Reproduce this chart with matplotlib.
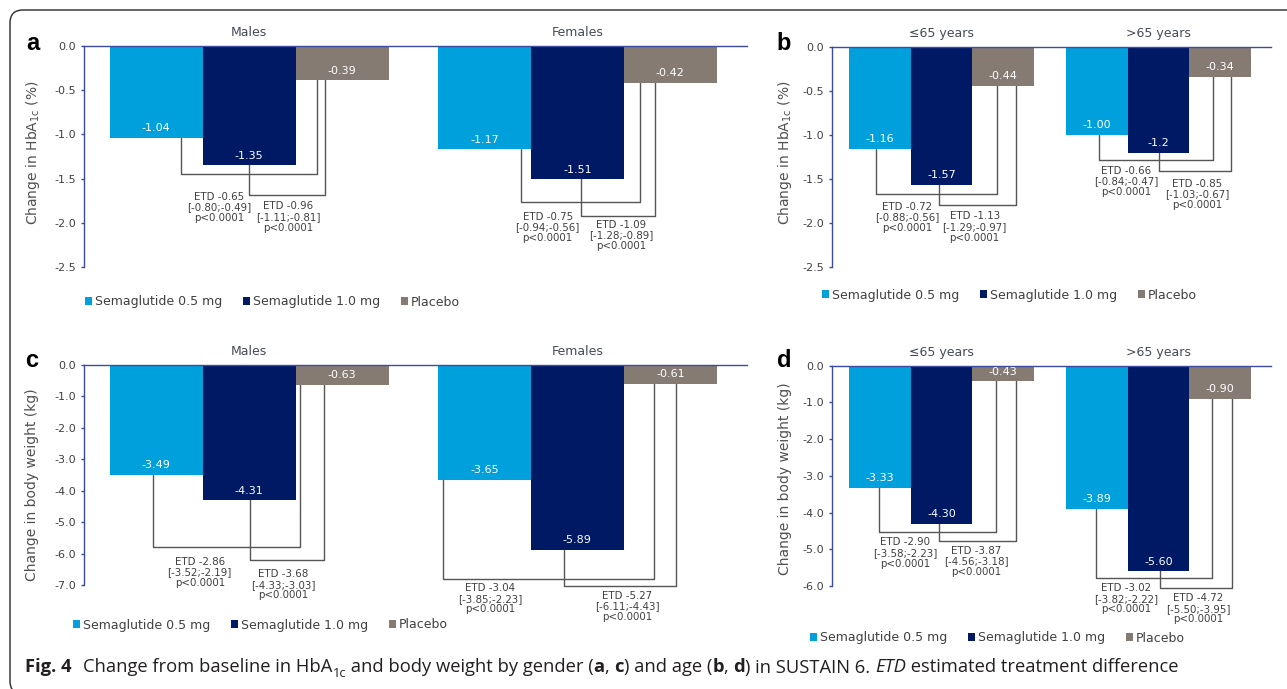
import matplotlib
matplotlib.use("Agg")
import matplotlib.pyplot as plt
from matplotlib.patches import FancyBboxPatch
import numpy as np

plt.rcParams['axes.unicode_minus'] = False
plt.rcParams['font.family'] = ['DejaVu Sans']

# ---------------- data ----------------
series = ["Semaglutide 0.5 mg", "Semaglutide 1.0 mg", "Placebo"]
groups_gender = ["Males", "Females"]
groups_age = ["\u226465 years", ">65 years"]

hba1c_gender_sema05 = [-1.04, -1.17]
hba1c_gender_sema10 = [-1.35, -1.51]
hba1c_gender_placebo = [-0.39, -0.42]
hba1c_age_sema05 = [-1.16, -1.00]
hba1c_age_sema10 = [-1.57, -1.2]
hba1c_age_sema10_text = ["-1.57", "-1.2"]
hba1c_age_placebo = [-0.44, -0.34]

bw_gender_sema05 = [-3.49, -3.65]
bw_gender_sema10 = [-4.31, -5.89]
bw_gender_placebo = [-0.63, -0.61]
bw_age_sema05 = [-3.33, -3.89]
bw_age_sema10 = [-4.30, -5.60]
bw_age_placebo = [-0.43, -0.90]

# estimated treatment differences vs placebo: estimate, CI low, CI high
etd_hba1c_gender_05 = [-0.65, -0.75]
ci_hba1c_gender_05 = [(-0.80, -0.49), (-0.94, -0.56)]
etd_hba1c_gender_10 = [-0.96, -1.09]
ci_hba1c_gender_10 = [(-1.11, -0.81), (-1.28, -0.89)]
etd_hba1c_age_05 = [-0.72, -0.66]
ci_hba1c_age_05 = [(-0.88, -0.56), (-0.84, -0.47)]
etd_hba1c_age_10 = [-1.13, -0.85]
ci_hba1c_age_10 = [(-1.29, -0.97), (-1.03, -0.67)]
etd_bw_gender_05 = [-2.86, -3.04]
ci_bw_gender_05 = [(-3.52, -2.19), (-3.85, -2.23)]
etd_bw_gender_10 = [-3.68, -5.27]
ci_bw_gender_10 = [(-4.33, -3.03), (-6.11, -4.43)]
etd_bw_age_05 = [-2.90, -3.02]
ci_bw_age_05 = [(-3.58, -2.23), (-3.82, -2.22)]
etd_bw_age_10 = [-3.87, -4.72]
ci_bw_age_10 = [(-4.56, -3.18), (-5.50, -3.95)]
p_text = "p<0.0001"

yticks_hba1c = [0.0, -0.5, -1.0, -1.5, -2.0, -2.5]
yticks_bw_gender = [0.0, -1.0, -2.0, -3.0, -4.0, -5.0, -6.0, -7.0]
yticks_bw_age = [0.0, -1.0, -2.0, -3.0, -4.0, -5.0, -6.0]

# ---------------- style / layout ----------------
W, H = 1287, 689
C05, C10, CPL = "#00A0DC", "#001965", "#857B73"
AXC = "#3D4B9F"
TXT = "#404040"
LINE = "#555555"
GROUP_STEP = 3.53
XLIM = (-1.78, 5.35)

fig = plt.figure(figsize=(W / 100, H / 100), dpi=100)


def fx(x):
    return x / W


def fy(y):
    return 1 - y / H


# bracket layout per group: (left x, right x, level) for the 0.5 and 1.0 mg brackets,
# and (x, first-line y) for their labels, relative to group centre
layout_a = [
    dict(b1=(-0.73, 0.73, -1.45), b2=(0.0, 0.82, -1.69), t1=(-0.32, -1.70), t2=(0.42, -1.81)),
    dict(b1=(-0.61, 0.67, -1.76), b2=(0.04, 0.83, -1.92), t1=(-0.32, -1.93), t2=(0.47, -2.02)),
]
layout_b = [
    dict(b1=(-1.06, 0.90, -1.67), b2=(-0.04, 1.21, -1.80), t1=(-0.56, -1.81), t2=(0.54, -1.92)),
    dict(b1=(-0.97, 0.89, -1.28), b2=(0.0, 1.18, -1.41), t1=(-0.53, -1.40), t2=(0.63, -1.55)),
]
layout_c = [
    dict(b1=(-1.03, 0.55, -5.78), b2=(0.01, 0.81, -6.19), t1=(-0.53, -6.25), t2=(0.37, -6.64)),
    dict(b1=(-1.44, 0.82, -6.80), b2=(-0.14, 1.06, -7.03), t1=(-0.94, -7.09), t2=(0.54, -7.33)),
]
layout_d = [
    dict(b1=(-1.02, 0.89, -4.52), b2=(-0.04, 1.21, -4.78), t1=(-0.59, -4.80), t2=(0.57, -5.03)),
    dict(b1=(-1.02, 0.87, -5.79), b2=(0.02, 1.19, -6.05), t1=(-0.53, -6.05), t2=(0.64, -6.32)),
]


def make_panel(box, groups, s05, s10, spl, yticks, e05, c05, e10, c10, layout,
               letter, letter_xy, ylabel, ylabel_xy, legend_xy, s10_text=None):
    left, right, top, bottom = box
    ax = fig.add_axes([fx(left), fy(bottom), fx(right - left), (bottom - top) / H])
    centers = np.arange(len(groups)) * GROUP_STEP
    texts05 = [f"{v:.2f}" for v in s05]
    texts10 = s10_text if s10_text is not None else [f"{v:.2f}" for v in s10]
    textspl = [f"{v:.2f}" for v in spl]
    for off, vals, col, name, txts in zip([-1, 0, 1], [s05, s10, spl], [C05, C10, CPL],
                                          series, [texts05, texts10, textspl]):
        ax.bar(centers + off, vals, width=1.0, color=col, label=name, zorder=2, linewidth=0)
        for xc, v, t in zip(centers + off, vals, txts):
            ax.annotate(t, xy=(xc, v), xytext=(0, 7.0), textcoords='offset points',
                        ha='center', va='center', color='white', fontsize=8, zorder=3)
    for i, gc in enumerate(centers):
        L = layout[i]
        xl, xr, lev = L['b1']
        ax.plot([gc + xl, gc + xl, gc + xr, gc + xr], [s05[i], lev, lev, spl[i]],
                color=LINE, lw=1.0, clip_on=False, zorder=1)
        xl, xr, lev = L['b2']
        ax.plot([gc + xl, gc + xl, gc + xr, gc + xr], [s10[i], lev, lev, spl[i]],
                color=LINE, lw=1.0, clip_on=False, zorder=1)
        for key, est, ci in (('t1', e05[i], c05[i]), ('t2', e10[i], c10[i])):
            tx, ty = L[key]
            ax.annotate(f"ETD {est:.2f}\n[{ci[0]:.2f};{ci[1]:.2f}]\n{p_text}",
                        xy=(gc + tx, ty), xytext=(0, -7.9), textcoords='offset points',
                        ha='center', va='center', fontsize=7.4, linespacing=1.08,
                        color=TXT, annotation_clip=False)
        ax.annotate(groups[i], xy=(gc, 1), xycoords=('data', 'axes fraction'),
                    xytext=(0, 9.5), textcoords='offset points', ha='center',
                    va='center', fontsize=9, color="#454A55")
    ax.set_xlim(*XLIM)
    ax.set_ylim(min(yticks), 0)
    ax.set_xticks([])
    ax.set_yticks(yticks)
    ax.set_yticklabels([f"{t:.1f}" for t in yticks])
    for s in ('right', 'bottom'):
        ax.spines[s].set_visible(False)
    for s in ('left', 'top'):
        ax.spines[s].set_color(AXC)
        ax.spines[s].set_linewidth(1.0)
    ax.tick_params(axis='y', direction='out', length=2.5, width=1, color=AXC,
                   labelsize=8, labelcolor=TXT, pad=3)
    ax.patch.set_alpha(0)

    fig.text(fx(letter_xy[0]), fy(letter_xy[1]), letter, ha='center', va='baseline',
             fontsize=17, fontweight='bold', family='Liberation Sans', color='black')
    fig.text(fx(ylabel_xy[0]), fy(ylabel_xy[1]), ylabel, rotation=90, ha='center',
             va='center', fontsize=10, color="#505050")
    handles, labels = ax.get_legend_handles_labels()
    fig.legend(handles, labels, loc='center left', bbox_to_anchor=(fx(legend_xy[0]), fy(legend_xy[1])),
               ncol=3, frameon=False, fontsize=9, handlelength=0.55, handleheight=0.55,
               handletextpad=0.25, columnspacing=1.65, borderpad=0, borderaxespad=0,
               labelcolor=TXT)
    return ax


hba1c_label = "Change in HbA$\\mathregular{_{1c}}$ (%)"
bw_label = "Change in body weight (kg)"

make_panel((83.5, 746.6, 46, 267), groups_gender, hba1c_gender_sema05, hba1c_gender_sema10,
           hba1c_gender_placebo, yticks_hba1c, etd_hba1c_gender_05, ci_hba1c_gender_05,
           etd_hba1c_gender_10, ci_hba1c_gender_10, layout_a,
           'a', (33, 50), hba1c_label, (33, 153), (85, 302))
make_panel((832.0, 1270.5, 47, 267), groups_age, hba1c_age_sema05, hba1c_age_sema10,
           hba1c_age_placebo, yticks_hba1c, etd_hba1c_age_05, ci_hba1c_age_05,
           etd_hba1c_age_10, ci_hba1c_age_10, layout_b,
           'b', (784, 50), hba1c_label, (785, 153), (822, 295), s10_text=hba1c_age_sema10_text)
make_panel((83.5, 746.6, 364.7, 585), groups_gender, bw_gender_sema05, bw_gender_sema10,
           bw_gender_placebo, yticks_bw_gender, etd_bw_gender_05, ci_bw_gender_05,
           etd_bw_gender_10, ci_bw_gender_10, layout_c,
           'c', (32, 367), bw_label, (32, 485), (73, 625))
make_panel((832.0, 1270.5, 365.7, 586), groups_age, bw_age_sema05, bw_age_sema10,
           bw_age_placebo, yticks_bw_age, etd_bw_age_05, ci_bw_age_05,
           etd_bw_age_10, ci_bw_age_10, layout_d,
           'd', (784, 367), bw_label, (785, 479), (810, 638))

# ---------------- frame ----------------
frame = FancyBboxPatch((0.10, -0.05), 14.0, 6.84, boxstyle="round,pad=0,rounding_size=0.13",
                       transform=fig.dpi_scale_trans, fill=False, ec='#3a3a3a', lw=1.1)
fig.add_artist(frame)

# ---------------- caption ----------------
renderer = fig.canvas.get_renderer()
CAP_FONT = 'Open Sans'
CAP_COL = '#231F20'


def tw(s, **kw):
    t1 = fig.text(0, 0, s + "|", **kw)
    w1 = t1.get_window_extent(renderer).width
    t1.remove()
    t2 = fig.text(0, 0, "|", **kw)
    w2 = t2.get_window_extent(renderer).width
    t2.remove()
    return w1 - w2


runs = [("Change from baseline in HbA", 'normal'), ("1c", 'sub'),
        (" and body weight by gender (", 'normal'), ("a", 'bold'), (", ", 'normal'),
        ("c", 'bold'), (") and age (", 'normal'), ("b", 'bold'), (", ", 'normal'),
        ("d", 'bold'), (") in SUSTAIN 6. ", 'normal'), ("ETD", 'italic'),
        (" estimated treatment difference", 'normal')]


def props(kind, size):
    kw = dict(family=CAP_FONT, color=CAP_COL, fontsize=size)
    if kind == 'bold':
        kw['fontweight'] = 'bold'
    elif kind == 'italic':
        kw['fontstyle'] = 'italic'
    elif kind == 'sub':
        kw['fontsize'] = size * 0.7
    return kw


base = 12.0
total = sum(tw(s, **props(k, base)) for s, k in runs)
size = base * (1179 - 83) / total
baseline = 672.5
fig.text(fx(25), fy(baseline), "Fig. 4", va='baseline', ha='left',
         **props('bold', size))
x = 83.0
for s, k in runs:
    kw = props(k, size)
    yb = baseline + (4.5 if k == 'sub' else 0)
    fig.text(fx(x), fy(yb), s, va='baseline', ha='left', **kw)
    x += tw(s, **kw)

fig.savefig("out.png", dpi=100)
